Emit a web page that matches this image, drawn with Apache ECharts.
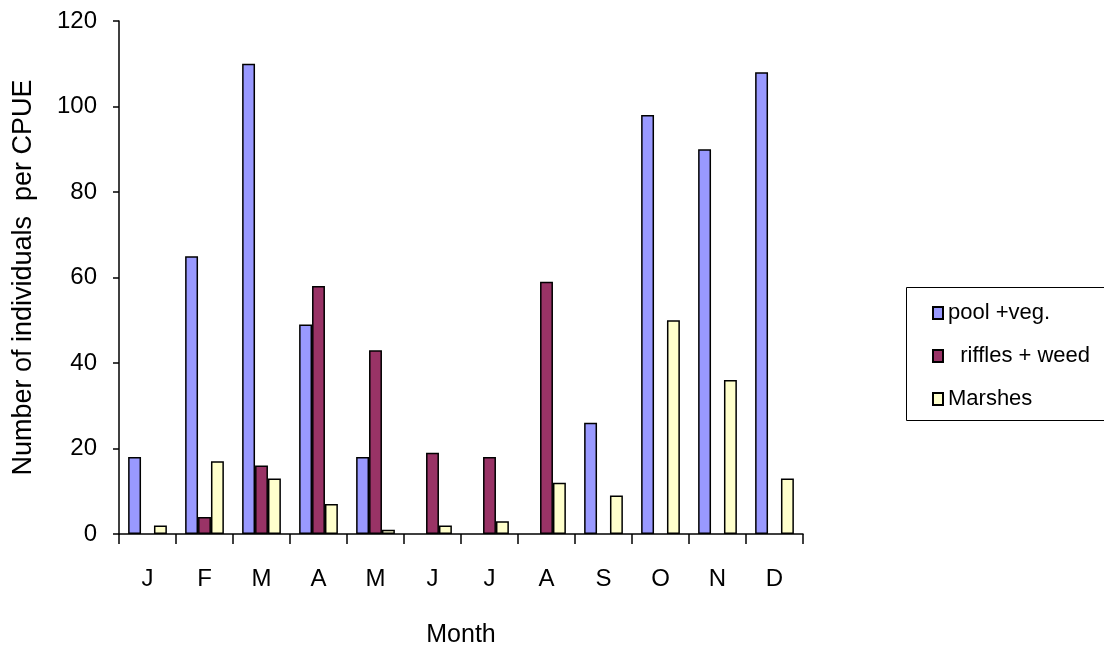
<!DOCTYPE html>
<html>
<head>
<meta charset="utf-8">
<script src="https://cdn.jsdelivr.net/npm/echarts@6/dist/echarts.min.js"></script>
<style>html,body{margin:0;padding:0;background:#fff;}#c{width:1104px;height:646px;}</style>
</head>
<body>
<div id="c"></div>
<script>
var months = ['J','F','M','A','M','J','J','A','S','O','N','D'];
var poolVeg = [18, 65, 110, 49, 18, 0, 0, 0, 26, 98, 90, 108];
var rifflesWeed = [0, 4, 16, 58, 43, 19, 18, 59, 0, 0, 0, 0];
var marshes = [2, 17, 13, 7, 1, 2, 3, 12, 9, 50, 36, 13];
var yTicks = [0, 20, 40, 60, 80, 100, 120];
var seriesNames = ['pool +veg.', '  riffles + weed', 'Marshes'];

var font = 'Liberation Sans, Arial, sans-serif';
var chart = echarts.init(document.getElementById('c'));
function hideZero(arr) { return arr.map(function (v) { return v === 0 ? null : v; }); }
function bar(name, data, color) {
  return {
    name: name, type: 'bar', data: hideZero(data), barGap: '0%', barCategoryGap: '32%',
    itemStyle: { color: color, borderColor: '#000', borderWidth: 1.5 },
    emphasis: { disabled: true }, animation: false
  };
}
chart.setOption({
  animation: false,
  grid: { left: 119, top: 21, right: 301, bottom: 112, containLabel: false, outerBoundsMode: 'none' },
  graphic: [{
    type: 'rect', left: 904, top: 285, silent: true,
    shape: { width: 220, height: 133 },
    style: { fill: 'none', stroke: '#000', lineWidth: 1 }
  }],
  legend: {
    orient: 'vertical', left: 927, top: 297,
    itemWidth: 10, itemHeight: 12, itemGap: 21,
    icon: 'rect',
    textStyle: { fontFamily: font, fontSize: 22, color: '#000' },
    data: seriesNames
  },
  xAxis: {
    type: 'category', data: months,
    name: 'Month', nameLocation: 'middle', nameGap: 89,
    nameTextStyle: { fontFamily: font, fontSize: 25, color: '#000' },
    axisLine: { lineStyle: { color: '#000', width: 1.5 } },
    axisTick: { show: true, length: 10, alignWithLabel: false, lineStyle: { color: '#000', width: 1.5 } },
    axisLabel: { fontFamily: font, fontSize: 24, color: '#000', margin: 33 }
  },
  yAxis: {
    type: 'value', min: yTicks[0], max: yTicks[yTicks.length - 1], interval: 20,
    name: 'Number of individuals  per CPUE', nameLocation: 'middle', nameGap: 82,
    nameTextStyle: { fontFamily: font, fontSize: 27, color: '#000' },
    axisLine: { show: true, lineStyle: { color: '#000', width: 1.5 } },
    axisTick: { show: true, length: 6, lineStyle: { color: '#000', width: 1.5 } },
    splitLine: { show: false },
    axisLabel: { fontFamily: font, fontSize: 24, color: '#000', margin: 22 }
  },
  series: [
    bar(seriesNames[0], poolVeg, '#9999FF'),
    bar(seriesNames[1], rifflesWeed, '#993366'),
    bar(seriesNames[2], marshes, '#FFFFCC')
  ]
});
</script>
</body>
</html>
